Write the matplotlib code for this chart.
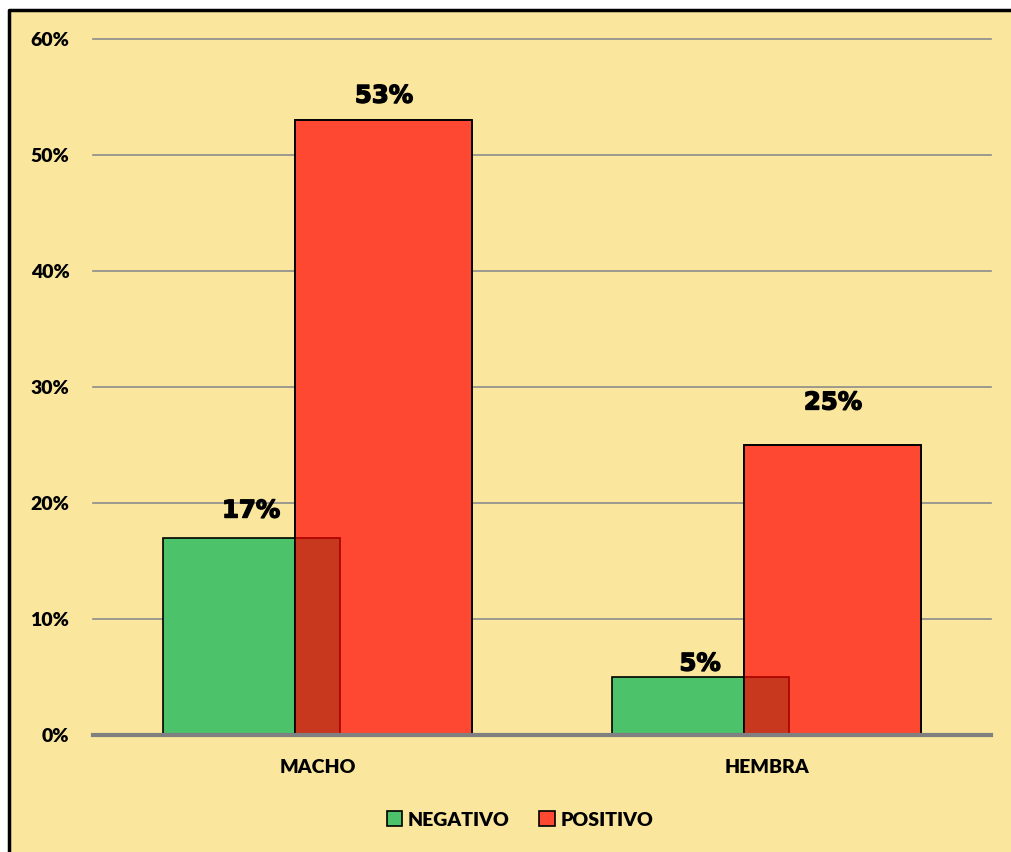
import numpy as np
import matplotlib.pyplot as plt
import matplotlib.patheffects as pe
from matplotlib.patches import Rectangle
from matplotlib.lines import Line2D

# Datos
categorias = ['MACHO', 'HEMBRA']
negativo = [0.17, 0.05]
positivo = [0.53, 0.25]
series = ['NEGATIVO', 'POSITIVO']

fondo = '#FAE79D'
verde = '#4CC26A'
rojo = '#FF4832'
solape = '#C8381E'
fuente = 'Lato'

fig = plt.figure(figsize=(10.11, 8.52), dpi=100, facecolor='white')
# fondo y marco del gráfico (solo arriba e izquierda visibles)
x0, y1 = 9 / 1011, 1 - 10 / 852
fig.patches.append(Rectangle((x0, 0), 1 - x0, y1, transform=fig.transFigure,
                             facecolor=fondo, edgecolor='none', zorder=-2))
fig.lines.append(Line2D([x0, x0, 1], [0, y1, y1], transform=fig.transFigure,
                        color='black', linewidth=2.5, zorder=-1))

ax = fig.add_axes([93 / 1011, 1 - 735 / 852, 898 / 1011, (735 - 39) / 852])
ax.set_facecolor('none')

x = np.arange(len(categorias))
ancho = 0.394
desp = 0.148

b_neg = ax.bar(x - desp, negativo, ancho, color=verde, edgecolor='black', linewidth=1.2,
               zorder=2, label=series[0])
b_pos = ax.bar(x + desp, positivo, ancho, color=rojo, edgecolor='black', linewidth=1.2,
               zorder=3, label=series[1])

# zona de solapamiento (verde bajo rojo)
for bn, bp in zip(b_neg, b_pos):
    r = Rectangle(bn.get_xy(), bn.get_width(), bn.get_height(), facecolor=solape,
                  edgecolor='#A80000', linewidth=1.2, zorder=4)
    ax.add_patch(r)
    r.set_clip_path(bp)
    ax.add_patch(Rectangle(bp.get_xy(), bp.get_width(), bp.get_height(), facecolor='none',
                           edgecolor='black', linewidth=1.2, zorder=5))

# etiquetas de datos
desp_neg = [11, 1]
desp_pos = [9, 22]
grueso = [pe.Stroke(linewidth=1.0, foreground='black'), pe.Normal()]
for i in range(len(categorias)):
    ax.annotate(f'{negativo[i]:.0%}', (x[i] - desp, negativo[i]), xytext=(0, desp_neg[i]),
                textcoords='offset points', ha='center', va='bottom',
                fontsize=17.5, fontweight='bold', family='DejaVu Sans', zorder=6,
                path_effects=grueso)
    ax.annotate(f'{positivo[i]:.0%}', (x[i] + desp, positivo[i]), xytext=(0, desp_pos[i]),
                textcoords='offset points', ha='center', va='bottom',
                fontsize=17.5, fontweight='bold', family='DejaVu Sans', zorder=6,
                path_effects=grueso)

ax.set_xlim(-0.5, 1.5)
ax.set_ylim(0, 0.6)
ax.set_yticks(np.arange(0, 0.61, 0.1))
ax.set_yticklabels([f'{int(round(v * 100))}%' for v in np.arange(0, 0.61, 0.1)])
ax.set_xticks(x)
ax.set_xticklabels(categorias)
for lab in ax.get_xticklabels() + ax.get_yticklabels():
    lab.set_family(fuente)
    lab.set_fontweight('heavy')
    lab.set_fontsize(14)
ax.tick_params(axis='y', length=0, pad=17)
ax.tick_params(axis='x', length=0, pad=17)

ax.grid(axis='y', color='#8C8C8C', linewidth=1.2, zorder=1)
for g in ax.get_ygridlines():
    g.set_clip_on(False)
ax.set_axisbelow(True)
for s in ['top', 'right', 'left']:
    ax.spines[s].set_visible(False)
ax.spines['bottom'].set_color('#808080')
ax.spines['bottom'].set_linewidth(3)
ax.spines['bottom'].set_zorder(6)

leg = fig.legend(handles=[b_neg, b_pos], labels=series, loc='center', ncol=2,
                 bbox_to_anchor=(520 / 1011, 1 - 820 / 852), frameon=False,
                 handlelength=0.8, handleheight=0.8, handletextpad=0.3, columnspacing=1.5,
                 prop={'family': fuente, 'weight': 'heavy', 'size': 14})

fig.savefig('out.png', dpi=100, facecolor='white')
